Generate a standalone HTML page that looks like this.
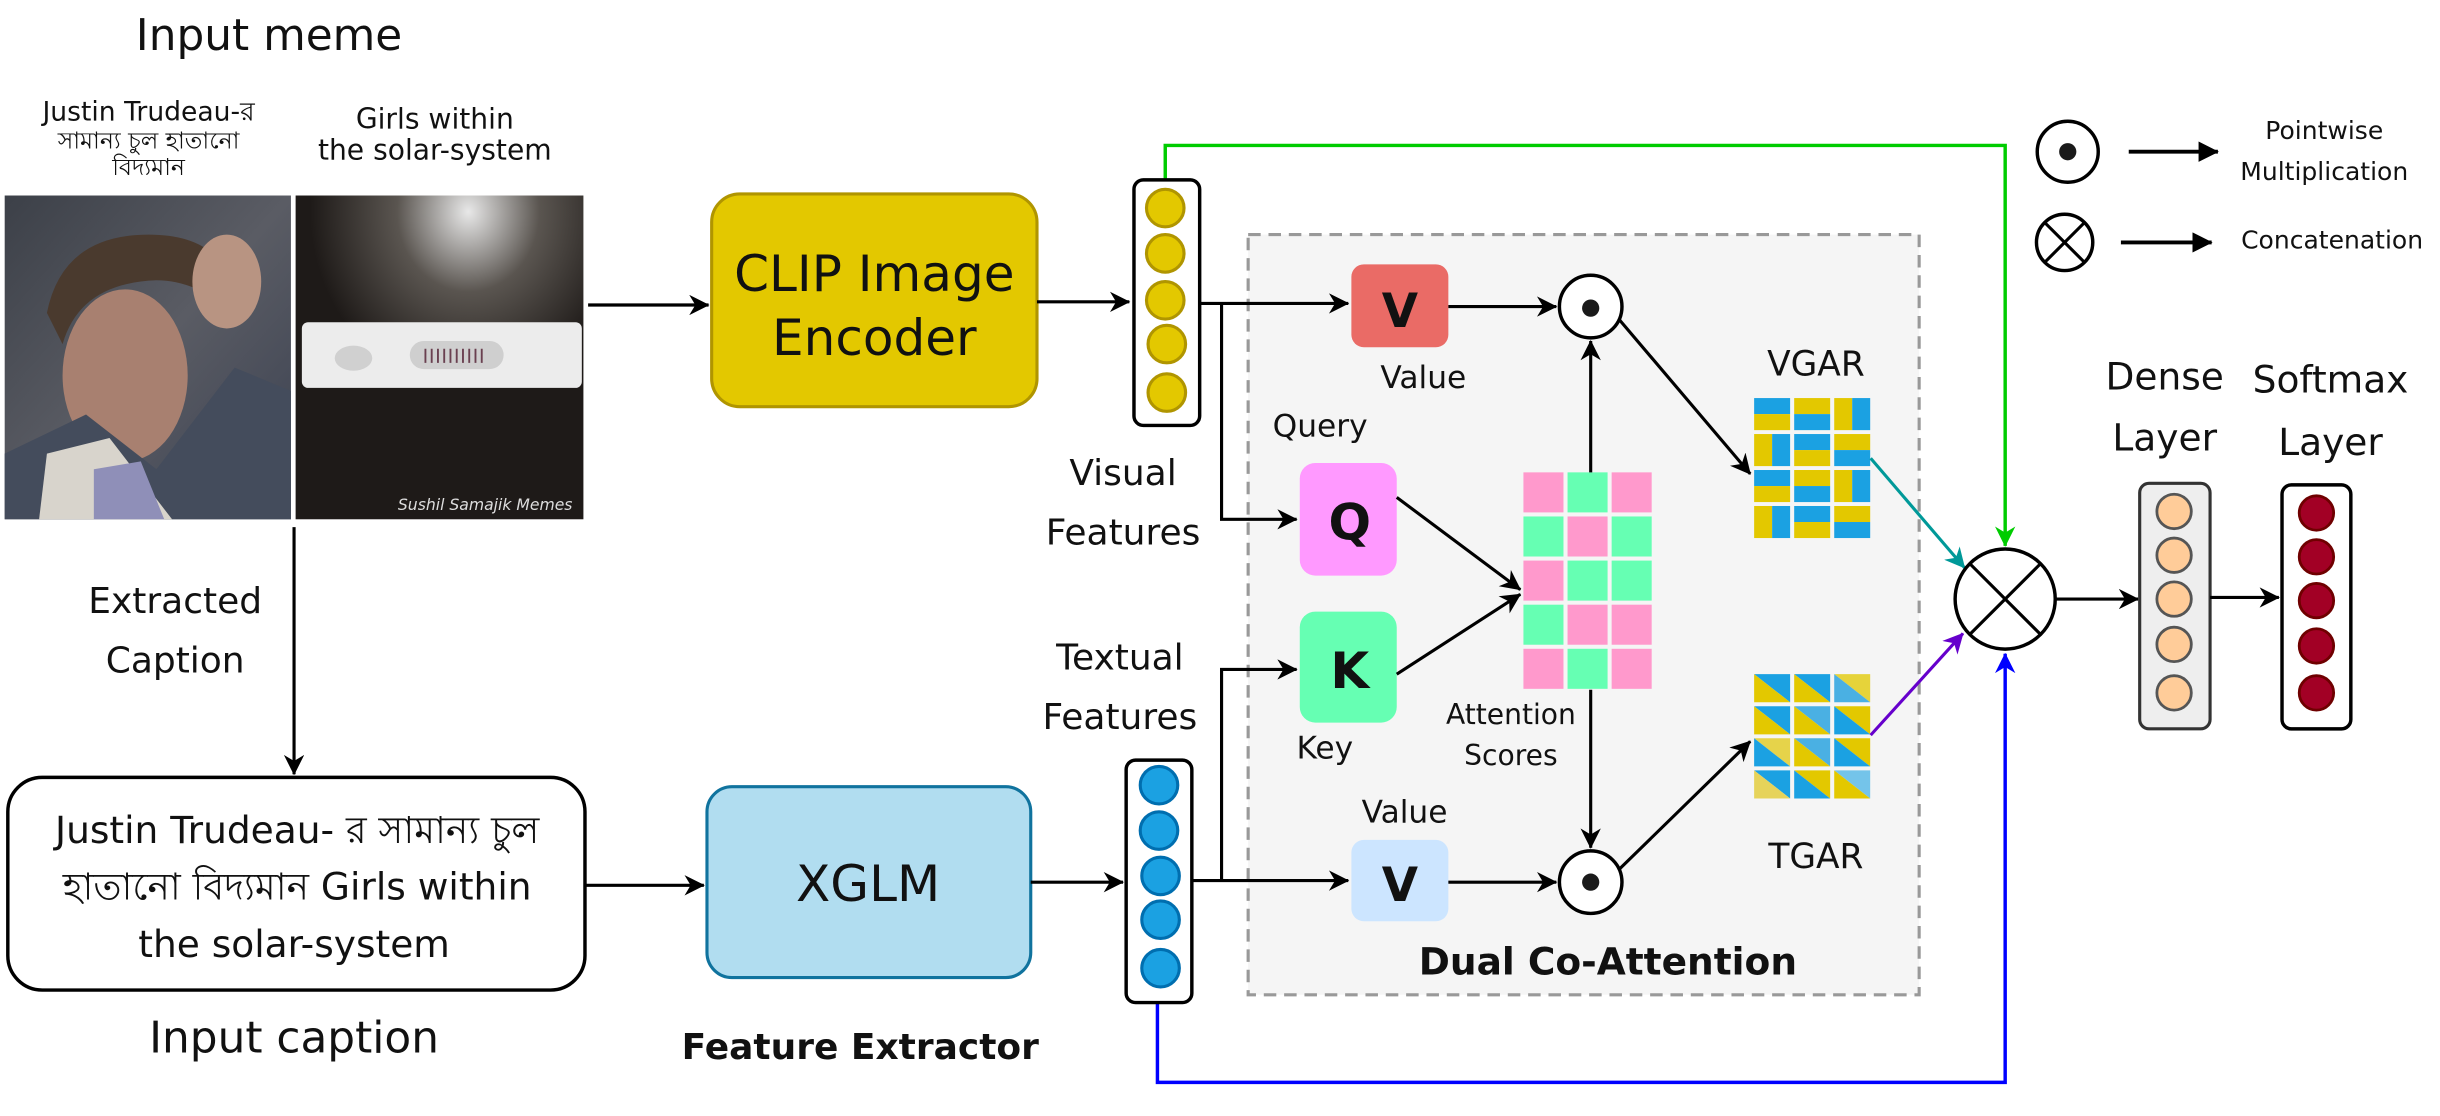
<!DOCTYPE html>
<html><head><meta charset="utf-8"><style>
html,body{margin:0;padding:0;background:#fff;}
svg{display:block;}
text{font-family:"DejaVu Sans","Liberation Sans","Noto Sans CJK SC",sans-serif;fill:#111;}
</style></head><body>
<svg width="2440" height="1116" viewBox="0 0 2440 1116" xmlns="http://www.w3.org/2000/svg">
<defs>
<marker id="a" viewBox="0 0 10 10" refX="9.5" refY="5" markerWidth="13" markerHeight="13" markerUnits="userSpaceOnUse" orient="auto"><path d="M0,0 L10,5 L0,10 L3,5 z" fill="#000"/></marker>
<marker id="ag" viewBox="0 0 10 10" refX="9.5" refY="5" markerWidth="13" markerHeight="13" markerUnits="userSpaceOnUse" orient="auto"><path d="M0,0 L10,5 L0,10 L3,5 z" fill="#00cc00"/></marker>
<marker id="ab" viewBox="0 0 10 10" refX="9.5" refY="5" markerWidth="13" markerHeight="13" markerUnits="userSpaceOnUse" orient="auto"><path d="M0,0 L10,5 L0,10 L3,5 z" fill="#0000ff"/></marker>
<marker id="at" viewBox="0 0 10 10" refX="9.5" refY="5" markerWidth="13" markerHeight="13" markerUnits="userSpaceOnUse" orient="auto"><path d="M0,0 L10,5 L0,10 L3,5 z" fill="#009999"/></marker>
<marker id="ap" viewBox="0 0 10 10" refX="9.5" refY="5" markerWidth="13" markerHeight="13" markerUnits="userSpaceOnUse" orient="auto"><path d="M0,0 L10,5 L0,10 L3,5 z" fill="#6600cc"/></marker>
<marker id="al" viewBox="0 0 10 10" refX="9.5" refY="5" markerWidth="13" markerHeight="13" markerUnits="userSpaceOnUse" orient="auto"><path d="M0,0 L10,5 L0,10 z" fill="#000"/></marker>
<radialGradient id="glow" cx="0.6" cy="0.05" r="0.55"><stop offset="0" stop-color="#e8e8e8"/><stop offset="0.45" stop-color="#5a5550"/><stop offset="1" stop-color="#1e1a18"/></radialGradient>
<linearGradient id="p1" x1="0" y1="0" x2="1" y2="1"><stop offset="0" stop-color="#3c4048"/><stop offset="0.5" stop-color="#5a5c64"/><stop offset="1" stop-color="#3a4050"/></linearGradient>
</defs>
<g transform="scale(1.5641)">
<text x="172" y="32" font-size="28" text-anchor="middle">Input meme</text>
<text x="95" y="77" font-size="17" text-anchor="middle">Justin Trudeau-র</text>
<text x="95" y="95" font-size="15" text-anchor="middle">সামান্য চুল হাতানো</text>
<text x="95" y="112" font-size="15" text-anchor="middle">বিদ্যমান</text>
<text x="278" y="82" font-size="18" text-anchor="middle">Girls within</text>
<text x="278" y="102" font-size="18" text-anchor="middle">the solar-system</text>
<!-- photo 1 -->
<rect x="3" y="125" width="183" height="207" fill="url(#p1)"/>
<ellipse cx="80" cy="240" rx="40" ry="55" fill="#a88070"/>
<path d="M30,200 Q40,150 95,150 Q150,150 150,200 Q120,175 90,180 Q50,185 40,220 z" fill="#4a3a2e"/>
<path d="M3,290 L55,265 L100,300 L150,235 L186,250 L186,332 L3,332 z" fill="#444c5c"/>
<path d="M30,290 L70,280 L110,332 L25,332 z" fill="#d8d4cc"/>
<path d="M60,300 L90,295 L105,332 L60,332 z" fill="#8f8fb8"/>
<ellipse cx="145" cy="180" rx="22" ry="30" fill="#b89482"/>
<!-- photo 2 -->
<rect x="189" y="125" width="184" height="207" fill="url(#glow)"/>
<rect x="193" y="206" width="179" height="42" rx="4" fill="#ececec"/>
<ellipse cx="226" cy="229" rx="12" ry="8" fill="#d0d0d0"/>
<rect x="262" y="218" width="60" height="18" rx="9" fill="#cfcfcf"/>
<g stroke="#6a4050" stroke-width="1.2"><path d="M272,223v9M276,223v9M280,223v9M284,223v9M288,223v9M292,223v9M296,223v9M300,223v9M304,223v9M308,223v9"/></g>
<text x="366" y="326" font-size="10" text-anchor="end" font-family="Liberation Serif,serif" font-style="italic" style="fill:#ddd">Sushil Samajik Memes</text>
<line x1="188" y1="337" x2="188" y2="495" stroke="#000" stroke-width="2" marker-end="url(#a)"/>
<text x="112" y="392" font-size="23" text-anchor="middle">Extracted</text>
<text x="112" y="430" font-size="23" text-anchor="middle">Caption</text>
<rect x="5" y="497" width="369" height="136" rx="22" fill="#fff" stroke="#000" stroke-width="2.2"/>
<text x="190" y="539" font-size="24" text-anchor="middle">Justin Trudeau- র সামান্য চুল</text>
<text x="190" y="575" font-size="24" text-anchor="middle">হাতানো বিদ্যমান  Girls within</text>
<text x="188" y="612" font-size="24" text-anchor="middle">the solar-system</text>
<text x="188" y="673" font-size="28" text-anchor="middle">Input caption</text>
<line x1="374" y1="566" x2="450" y2="566" stroke="#000" stroke-width="2" marker-end="url(#a)"/>
<line x1="376" y1="195" x2="453" y2="195" stroke="#000" stroke-width="2" marker-end="url(#a)"/>
<rect x="455" y="124" width="208" height="136" rx="18" fill="#e3c800" stroke="#b09500" stroke-width="2"/>
<text x="559" y="186" font-size="32" text-anchor="middle">CLIP Image</text>
<text x="559" y="227" font-size="32" text-anchor="middle">Encoder</text>
<line x1="663" y1="193" x2="722" y2="193" stroke="#000" stroke-width="2" marker-end="url(#a)"/>
<rect x="452" y="503" width="207" height="122" rx="16" fill="#b1ddf0" stroke="#10739e" stroke-width="2"/>
<text x="555" y="576" font-size="32" text-anchor="middle">XGLM</text>
<line x1="659" y1="564" x2="718" y2="564" stroke="#000" stroke-width="2" marker-end="url(#a)"/>
<text x="550" y="677" font-size="23" font-weight="bold" text-anchor="middle">Feature Extractor</text>
<rect x="798" y="150" width="429" height="486" fill="#f5f5f5" stroke="#999" stroke-width="2" stroke-dasharray="8,5"/>
<text x="1028" y="623" font-size="24" font-weight="bold" text-anchor="middle">Dual Co-Attention</text>
<polyline points="745,115 745,93 1282,93 1282,349" fill="none" stroke="#00cc00" stroke-width="2.2" marker-end="url(#ag)"/>
<polyline points="740,641 740,692 1282,692 1282,418" fill="none" stroke="#0000ff" stroke-width="2.2" marker-end="url(#ab)"/>
<rect x="725" y="115" width="42" height="157" rx="6" fill="#fff" stroke="#000" stroke-width="2.2"/>
<g fill="#e3c800" stroke="#b09500" stroke-width="2"><circle cx="745" cy="133" r="12"/><circle cx="745" cy="162" r="12"/><circle cx="745" cy="192" r="12"/><circle cx="746" cy="220" r="12"/><circle cx="746" cy="251" r="12"/></g>
<text x="718" y="310" font-size="23" text-anchor="middle">Visual</text>
<text x="718" y="348" font-size="23" text-anchor="middle">Features</text>
<rect x="720" y="486" width="42" height="155" rx="6" fill="#fff" stroke="#000" stroke-width="2.2"/>
<g fill="#1ba1e2" stroke="#006eaf" stroke-width="2"><circle cx="741" cy="502" r="12"/><circle cx="741" cy="531" r="12"/><circle cx="742" cy="560" r="12"/><circle cx="742" cy="588" r="12"/><circle cx="742" cy="619" r="12"/></g>
<text x="716" y="428" font-size="23" text-anchor="middle">Textual</text>
<text x="716" y="466" font-size="23" text-anchor="middle">Features</text>
<line x1="767" y1="194" x2="862" y2="194" stroke="#000" stroke-width="2" marker-end="url(#a)"/>
<polyline points="781,194 781,332 829,332" fill="none" stroke="#000" stroke-width="2" marker-end="url(#a)"/>
<line x1="762" y1="563" x2="862" y2="563" stroke="#000" stroke-width="2" marker-end="url(#a)"/>
<polyline points="781,563 781,428 829,428" fill="none" stroke="#000" stroke-width="2" marker-end="url(#a)"/>
<rect x="864" y="169" width="62" height="53" rx="8" fill="#ea6b66"/>
<text x="895" y="209" font-size="30" font-weight="bold" text-anchor="middle" fill="#1a1a1a">V</text>
<text x="910" y="248" font-size="20" text-anchor="middle">Value</text>
<text x="844" y="279" font-size="20" text-anchor="middle">Query</text>
<rect x="831" y="296" width="62" height="72" rx="10" fill="#ff99ff"/>
<text x="863" y="345" font-size="32" font-weight="bold" text-anchor="middle" fill="#1a1a1a">Q</text>
<rect x="831" y="391" width="62" height="71" rx="10" fill="#66ffb3"/>
<text x="863" y="440" font-size="32" font-weight="bold" text-anchor="middle" fill="#1a1a1a">K</text>
<text x="847" y="485" font-size="20" text-anchor="middle">Key</text>
<text x="898" y="526" font-size="20" text-anchor="middle">Value</text>
<rect x="864" y="537" width="62" height="52" rx="8" fill="#cce5ff"/>
<text x="895" y="576" font-size="30" font-weight="bold" text-anchor="middle" fill="#1a1a1a">V</text>
<g>
<rect x="974" y="302" width="25.6" height="25.6" fill="#ff99cc"/><rect x="1002.2" y="302" width="25.6" height="25.6" fill="#66ffb3"/><rect x="1030.4" y="302" width="25.6" height="25.6" fill="#ff99cc"/>
<rect x="974" y="330.2" width="25.6" height="25.6" fill="#66ffb3"/><rect x="1002.2" y="330.2" width="25.6" height="25.6" fill="#ff99cc"/><rect x="1030.4" y="330.2" width="25.6" height="25.6" fill="#66ffb3"/>
<rect x="974" y="358.4" width="25.6" height="25.6" fill="#ff99cc"/><rect x="1002.2" y="358.4" width="25.6" height="25.6" fill="#66ffb3"/><rect x="1030.4" y="358.4" width="25.6" height="25.6" fill="#66ffb3"/>
<rect x="974" y="386.6" width="25.6" height="25.6" fill="#66ffb3"/><rect x="1002.2" y="386.6" width="25.6" height="25.6" fill="#ff99cc"/><rect x="1030.4" y="386.6" width="25.6" height="25.6" fill="#ff99cc"/>
<rect x="974" y="414.8" width="25.6" height="25.6" fill="#ff99cc"/><rect x="1002.2" y="414.8" width="25.6" height="25.6" fill="#66ffb3"/><rect x="1030.4" y="414.8" width="25.6" height="25.6" fill="#ff99cc"/>
</g>
<text x="966" y="463" font-size="18" text-anchor="middle">Attention</text>
<text x="966" y="489" font-size="18" text-anchor="middle">Scores</text>
<line x1="893" y1="318" x2="972" y2="377" stroke="#000" stroke-width="2" marker-end="url(#a)"/>
<line x1="893" y1="431" x2="972" y2="380" stroke="#000" stroke-width="2" marker-end="url(#a)"/>
<line x1="1017" y1="302" x2="1017" y2="218" stroke="#000" stroke-width="2" marker-end="url(#a)"/>
<line x1="1017" y1="441" x2="1017" y2="542" stroke="#000" stroke-width="2" marker-end="url(#a)"/>
<line x1="926" y1="196" x2="995" y2="196" stroke="#000" stroke-width="2" marker-end="url(#a)"/>
<circle cx="1017" cy="196" r="20" fill="#fff" stroke="#000" stroke-width="2.2"/><circle cx="1017" cy="197" r="5.5" fill="#1a1a1a"/>
<line x1="926" y1="564" x2="995" y2="564" stroke="#000" stroke-width="2" marker-end="url(#a)"/>
<circle cx="1017" cy="564" r="20" fill="#fff" stroke="#000" stroke-width="2.2"/><circle cx="1017" cy="564" r="5.5" fill="#1a1a1a"/>
<line x1="1035" y1="204" x2="1119" y2="303" stroke="#000" stroke-width="2" marker-end="url(#a)"/>
<line x1="1035" y1="556" x2="1119" y2="474" stroke="#000" stroke-width="2" marker-end="url(#a)"/>
<text x="1161" y="240" font-size="22" text-anchor="middle">VGAR</text>
<g transform="translate(1121.5,254.5)">
<rect x="0" y="0" width="23" height="10.25" fill="#1ba1e2"/><rect x="0" y="10.25" width="23" height="10.25" fill="#e3c800"/>
<rect x="25.6" y="0" width="23" height="10.25" fill="#e3c800"/><rect x="25.6" y="10.25" width="23" height="10.25" fill="#1ba1e2"/>
<rect x="51.2" y="0" width="11.5" height="20.5" fill="#e3c800"/><rect x="62.7" y="0" width="11.5" height="20.5" fill="#1ba1e2"/>
<g transform="translate(0,23)">
<rect x="0" y="0" width="11.5" height="20.5" fill="#e3c800"/><rect x="11.5" y="0" width="11.5" height="20.5" fill="#1ba1e2"/>
<rect x="25.6" y="0" width="23" height="10.25" fill="#1ba1e2"/><rect x="25.6" y="10.25" width="23" height="10.25" fill="#e3c800"/>
<rect x="51.2" y="0" width="23" height="10.25" fill="#e3c800"/><rect x="51.2" y="10.25" width="23" height="10.25" fill="#1ba1e2"/>
</g>
<g transform="translate(0,46)">
<rect x="0" y="0" width="23" height="10.25" fill="#1ba1e2"/><rect x="0" y="10.25" width="23" height="10.25" fill="#e3c800"/>
<rect x="25.6" y="0" width="23" height="10.25" fill="#e3c800"/><rect x="25.6" y="10.25" width="23" height="10.25" fill="#1ba1e2"/>
<rect x="51.2" y="0" width="11.5" height="20.5" fill="#e3c800"/><rect x="62.7" y="0" width="11.5" height="20.5" fill="#1ba1e2"/>
</g>
<g transform="translate(0,69)">
<rect x="0" y="0" width="11.5" height="20.5" fill="#e3c800"/><rect x="11.5" y="0" width="11.5" height="20.5" fill="#1ba1e2"/>
<rect x="25.6" y="0" width="23" height="10.25" fill="#1ba1e2"/><rect x="25.6" y="10.25" width="23" height="10.25" fill="#e3c800"/>
<rect x="51.2" y="0" width="23" height="10.25" fill="#e3c800"/><rect x="51.2" y="10.25" width="23" height="10.25" fill="#1ba1e2"/>
</g>
</g>
<g transform="translate(1121.5,431)">
<g>
<path d="M0,0H23V18z" fill="#1ba1e2"/><path d="M0,0V18H23z" fill="#e3c800"/>
<path d="M25.6,0H48.6V18z" fill="#1ba1e2"/><path d="M25.6,0V18H48.6z" fill="#e3c800"/>
<path d="M51.2,0H74.2V18z" fill="#e6d33a"/><path d="M51.2,0V18H74.2z" fill="#4ab0e3"/>
</g>
<g transform="translate(0,20.5)">
<path d="M0,0H23V18z" fill="#1ba1e2"/><path d="M0,0V18H23z" fill="#e3c800"/>
<path d="M25.6,0H48.6V18z" fill="#4ab0e3"/><path d="M25.6,0V18H48.6z" fill="#e3c800"/>
<path d="M51.2,0H74.2V18z" fill="#e3c800"/><path d="M51.2,0V18H74.2z" fill="#1ba1e2"/>
</g>
<g transform="translate(0,41)">
<path d="M0,0H23V18z" fill="#e6d34a"/><path d="M0,0V18H23z" fill="#1ba1e2"/>
<path d="M25.6,0H48.6V18z" fill="#4ab0e3"/><path d="M25.6,0V18H48.6z" fill="#e3c800"/>
<path d="M51.2,0H74.2V18z" fill="#e3c800"/><path d="M51.2,0V18H74.2z" fill="#1ba1e2"/>
</g>
<g transform="translate(0,61.5)">
<path d="M0,0H23V18z" fill="#1ba1e2"/><path d="M0,0V18H23z" fill="#e6d35a"/>
<path d="M25.6,0H48.6V18z" fill="#e3c800"/><path d="M25.6,0V18H48.6z" fill="#1ba1e2"/>
<path d="M51.2,0H74.2V18z" fill="#74c4ea"/><path d="M51.2,0V18H74.2z" fill="#e3c800"/>
</g>
</g>
<text x="1161" y="555" font-size="22" text-anchor="middle">TGAR</text>
<line x1="1196" y1="293" x2="1256" y2="363" stroke="#009999" stroke-width="2" marker-end="url(#at)"/>
<line x1="1196" y1="470" x2="1255" y2="405" stroke="#6600cc" stroke-width="2" marker-end="url(#ap)"/>
<circle cx="1282" cy="383" r="32" fill="#fff" stroke="#000" stroke-width="2.2"/>
<line x1="1259.4" y1="360.4" x2="1304.6" y2="405.6" stroke="#000" stroke-width="2"/>
<line x1="1304.6" y1="360.4" x2="1259.4" y2="405.6" stroke="#000" stroke-width="2"/>
<line x1="1314" y1="383" x2="1367" y2="383" stroke="#000" stroke-width="2" marker-end="url(#a)"/>
<text x="1384" y="249" font-size="24" text-anchor="middle">Dense</text>
<text x="1384" y="288" font-size="24" text-anchor="middle">Layer</text>
<rect x="1368" y="309" width="45" height="157" rx="6" fill="#eeeeee" stroke="#333" stroke-width="2"/>
<g fill="#ffcc99" stroke="#555" stroke-width="1.8"><circle cx="1390" cy="327" r="11"/><circle cx="1390" cy="355" r="11"/><circle cx="1390" cy="383" r="11"/><circle cx="1390" cy="412" r="11"/><circle cx="1390" cy="443" r="11"/></g>
<line x1="1413" y1="382" x2="1457" y2="382" stroke="#000" stroke-width="2" marker-end="url(#a)"/>
<text x="1490" y="251" font-size="24" text-anchor="middle">Softmax</text>
<text x="1490" y="291" font-size="24" text-anchor="middle">Layer</text>
<rect x="1459" y="310" width="44" height="156" rx="6" fill="#fff" stroke="#000" stroke-width="2.2"/>
<g fill="#a20025" stroke="#6f0000" stroke-width="1.8"><circle cx="1481" cy="328" r="11"/><circle cx="1481" cy="356" r="11"/><circle cx="1481" cy="384" r="11"/><circle cx="1481" cy="413" r="11"/><circle cx="1481" cy="443" r="11"/></g>
<circle cx="1322" cy="97" r="19.5" fill="#fff" stroke="#000" stroke-width="2.2"/><circle cx="1322" cy="97" r="5.5" fill="#1a1a1a"/>
<line x1="1361" y1="97" x2="1418" y2="97" stroke="#000" stroke-width="2.5" marker-end="url(#al)"/>
<text x="1486" y="89" font-size="16" text-anchor="middle">Pointwise</text>
<text x="1486" y="115" font-size="16" text-anchor="middle">Multiplication</text>
<circle cx="1320" cy="155" r="18" fill="#fff" stroke="#000" stroke-width="2.2"/>
<line x1="1307.3" y1="142.3" x2="1332.7" y2="167.7" stroke="#000" stroke-width="2"/>
<line x1="1332.7" y1="142.3" x2="1307.3" y2="167.7" stroke="#000" stroke-width="2"/>
<line x1="1356" y1="155" x2="1414" y2="155" stroke="#000" stroke-width="2.5" marker-end="url(#al)"/>
<text x="1491" y="159" font-size="16" text-anchor="middle">Concatenation</text>
</g>
</svg>
</body></html>
